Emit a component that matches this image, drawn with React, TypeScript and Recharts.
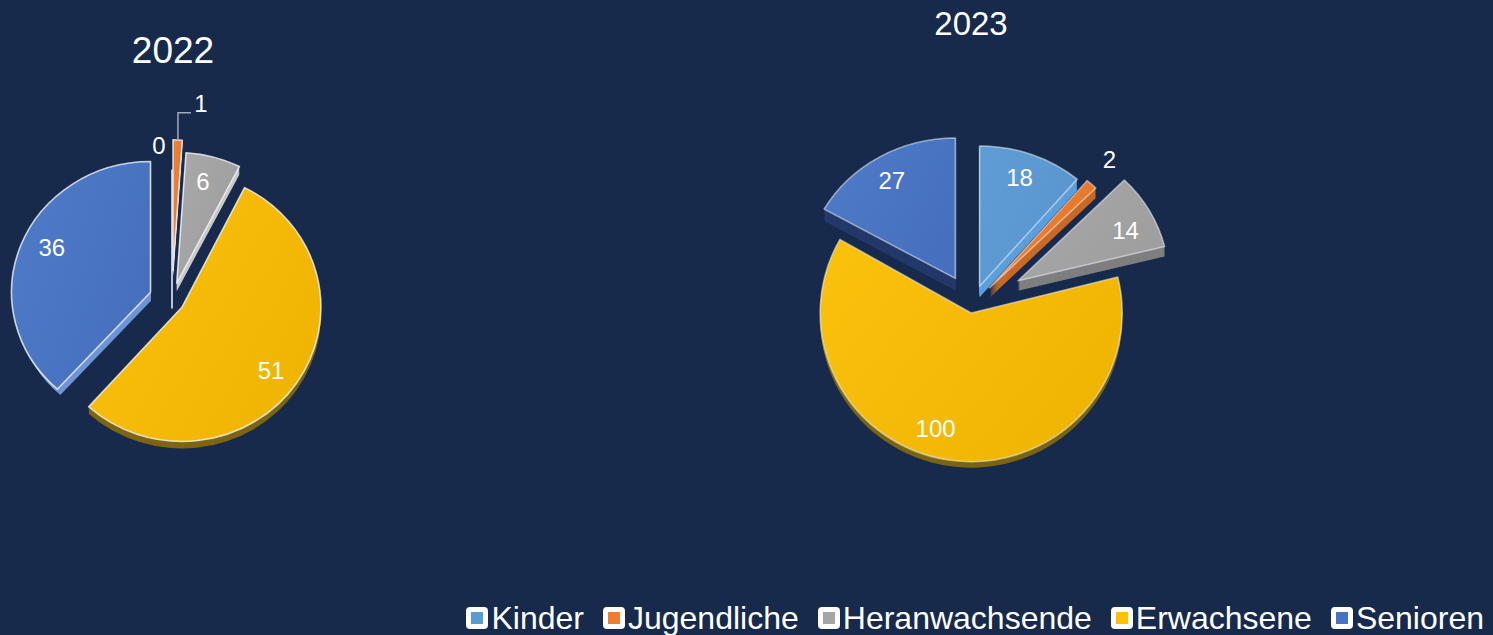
import { PieChart, Pie, Sector, Legend } from 'recharts';

const categories = ['Kinder', 'Jugendliche', 'Heranwachsende', 'Erwachsene', 'Senioren'];
const values2022 = [0, 1, 6, 51, 36];
const values2023 = [18, 2, 14, 100, 27];

const legendColors = ['#5B9BD5', '#ED7D31', '#A5A5A5', '#FFC000', '#4472C4'];
const gradients = [
  ['#5F9DD6', '#5A94CE'],
  ['#F08238', '#E47628'],
  ['#A9A9A9', '#9E9E9E'],
  ['#FAC10D', '#F0B503'],
  ['#4F7BC8', '#4670BE'],
];

// how far each slice is pulled out of the pie, in px
const explode2022 = [0, 30, 18, 12, 23];
const explode2023 = [22, 26, 53, 6, 33];
// vertical squash, fakes the 3d tilt
const tilt2022 = [1, 0.94, 0.94, 0.965, 0.94];
const tilt2023 = [0.93, 0.93, 0.94, 0.985, 0.93];
const depth2022 = [8, 6, 8, 7, 9];
const depth2023 = [11, 10, 10, 6, 12];
// side layers get narrower by this much per px, hides the rim on the arc
const shrink2022 = [0, 0, 0, 0, 0.5];
const shrink2023 = [0, 0, 0, 0, 0];
const sides2022 = ['#B9C7DC', '#D9D2CB', '#C9C9C9', '#7D6512', '#6F94D6'];
const sides2023 = ['#5C9FDC', '#C96A26', '#7F7F7F', '#7A6512', '#24396A'];

// label placement: distance from pie centre and angle shift against the slice middle
const labelDist2022 = [155, 198, 122, 122, 131];
const labelShift2022 = [4.8, -6.5, 0.6, -1.3, -2.4];
const labelDist2023 = [137, 201, 171, 128, 149];
const labelShift2023 = [-0.2, -0.7, -3.5, -8.7, 2.4];

const RAD = Math.PI / 180;

const makeData = (values: number[]) =>
  values.map((value, i) => ({ name: categories[i], value, fill: `url(#slice${i})` }));

const makeShape =
  (
    explode: number[],
    tilt: number[],
    depth: number[],
    shrink: number[],
    sides: string[],
    edge: string
  ) =>
  (props: any) => {
    const { cx, cy, startAngle, endAngle, outerRadius, fill, index } = props;
    const i = index ?? categories.indexOf(props.name);
    const mid = (startAngle + endAngle) / 2;
    const ox = explode[i] * Math.cos(mid * RAD);
    const oy = -explode[i] * Math.sin(mid * RAD);
    const place = (dy: number) =>
      `translate(${cx + ox} ${cy + oy + dy}) scale(1 ${tilt[i]}) translate(${-cx} ${-cy})`;

    if (startAngle === endAngle) {
      return (
        <g transform={place(depth[i])}>
          <line
            x1={cx}
            y1={cy}
            x2={cx}
            y2={cy - outerRadius}
            stroke="#B8C4D6"
            strokeWidth={2}
          />
        </g>
      );
    }

    const sector = { cx, cy, startAngle, endAngle, innerRadius: 0 };
    const layers = [];
    for (let d = depth[i]; d > 0; d--) {
      layers.push(
        <g key={d} transform={place(d)}>
          <Sector {...sector} outerRadius={outerRadius - shrink[i] * d} fill={sides[i]} stroke="none" />
        </g>
      );
    }
    return (
      <g>
        {layers}
        <g transform={place(0)}>
          <Sector
            {...sector}
            outerRadius={outerRadius}
            fill={fill}
            stroke={edge}
            strokeWidth={1.6}
            strokeLinejoin="round"
          />
        </g>
      </g>
    );
  };

const makeLabel = (dist: number[], shift: number[], leader: number) => (props: any) => {
  const { cx, cy, midAngle, value, index, outerRadius } = props;
  const a = (midAngle + shift[index]) * RAD;
  const x = cx + dist[index] * Math.cos(a);
  const y = cy - dist[index] * Math.sin(a) - 1;
  return (
    <g>
      {index === leader && (
        <polyline
          points={`${x - 23},${cy - outerRadius - 22} ${x - 23},${y + 9} ${x - 10},${y + 9}`}
          fill="none"
          stroke="#A3A9B3"
          strokeWidth={1.5}
        />
      )}
      <text
        x={x}
        y={y}
        fill="#FFFFFF"
        textAnchor="middle"
        dominantBaseline="central"
        fontSize={24}
        fontFamily="Liberation Sans"
      >
        {value}
      </text>
    </g>
  );
};

const renderLegend = () => (
  <div style={{ display: 'flex', justifyContent: 'flex-end', alignItems: 'center' }}>
    {categories.map((name, i) => (
      <div key={name} style={{ display: 'flex', alignItems: 'center', marginLeft: i ? 19 : 0 }}>
        <div
          style={{
            width: 12,
            height: 12,
            border: '5px solid #FFFFFF',
            borderRadius: 4,
            backgroundColor: legendColors[i],
            marginRight: 3,
          }}
        />
        <span style={{ fontSize: 32, lineHeight: '36px', color: '#FFFFFF' }}>{name}</span>
      </div>
    ))}
  </div>
);

const titleStyle = {
  position: 'absolute' as const,
  color: '#FFFFFF',
  transform: 'translateX(-50%)',
};

export default function App() {
  return (
    <div
      style={{
        position: 'absolute',
        left: 0,
        top: 0,
        width: 1493,
        height: 635,
        overflow: 'hidden',
        backgroundColor: '#172A4C',
        fontFamily: 'Liberation Sans',
      }}
    >
      <div style={{ ...titleStyle, left: 173, top: 26, fontSize: 37, lineHeight: '50px' }}>2022</div>
      <div style={{ ...titleStyle, left: 971, top: 1, fontSize: 33, lineHeight: '46px' }}>2023</div>
      <PieChart width={1493} height={635} margin={{ top: 0, right: 0, bottom: 0, left: 0 }}>
        <defs>
          {gradients.map(([from, to], i) => (
            <linearGradient key={i} id={`slice${i}`} x1="0" y1="0" x2="1" y2="0.6">
              <stop offset="0%" stopColor={from} />
              <stop offset="100%" stopColor={to} />
            </linearGradient>
          ))}
        </defs>
        <Pie
          data={makeData(values2022)}
          dataKey="value"
          nameKey="name"
          cx={172}
          cy={300.5}
          innerRadius={0}
          outerRadius={139}
          startAngle={90}
          endAngle={-270}
          stroke="none"
          isAnimationActive={false}
          shape={makeShape(explode2022, tilt2022, depth2022, shrink2022, sides2022, 'rgba(240,244,250,0.8)')}
          label={makeLabel(labelDist2022, labelShift2022, 1)}
          labelLine={false}
        />
        <Pie
          data={makeData(values2023)}
          dataKey="value"
          nameKey="name"
          cx={972}
          cy={307}
          innerRadius={0}
          outerRadius={151}
          startAngle={90}
          endAngle={-270}
          stroke="none"
          isAnimationActive={false}
          shape={makeShape(explode2023, tilt2023, depth2023, shrink2023, sides2023, 'rgba(235,240,250,0.55)')}
          label={makeLabel(labelDist2023, labelShift2023, -1)}
          labelLine={false}
        />
        <Legend
          content={renderLegend}
          wrapperStyle={{ position: 'absolute', left: 0, right: 'auto', width: 1484, top: 600, bottom: 'auto' }}
        />
      </PieChart>
    </div>
  );
}
